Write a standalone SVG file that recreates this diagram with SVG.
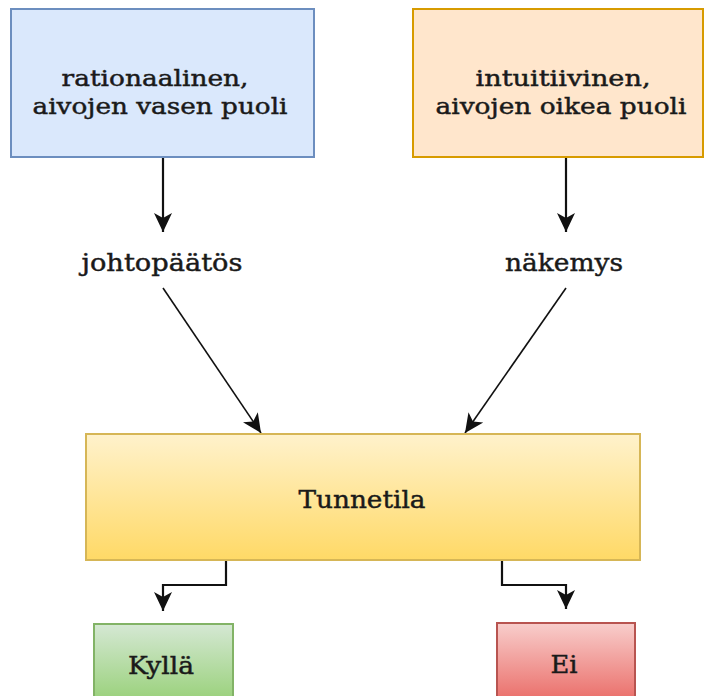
<svg xmlns="http://www.w3.org/2000/svg" width="704" height="696" viewBox="0 0 704 696">
  <defs>
    <linearGradient id="gYellow" x1="0" y1="0" x2="0" y2="1">
      <stop offset="0" stop-color="#fff2cc"/>
      <stop offset="1" stop-color="#ffd966"/>
    </linearGradient>
    <linearGradient id="gGreen" x1="0" y1="0" x2="0" y2="1">
      <stop offset="0" stop-color="#d5e8d4"/>
      <stop offset="1" stop-color="#97d077"/>
    </linearGradient>
    <linearGradient id="gRed" x1="0" y1="0" x2="0" y2="1">
      <stop offset="0" stop-color="#f8cecc"/>
      <stop offset="1" stop-color="#ea6b66"/>
    </linearGradient>
    <marker id="arrow" viewBox="0 0 20 20" refX="19" refY="10" markerWidth="20" markerHeight="20" markerUnits="userSpaceOnUse" orient="auto">
      <path d="M0,1 L19,10 L0,19 L5,10 Z" fill="#111"/>
    </marker>
  </defs>
  <style>
    .t { font-family: "DejaVu Serif", "Liberation Serif", serif; font-size: 25px; fill: #1a1a1a; stroke: #1a1a1a; stroke-width: 0.45; text-anchor: middle; }
    .s { font-size: 23px; }
    .c { fill: none; stroke: #111; stroke-width: 2.2; marker-end: url(#arrow); }
    .d { fill: none; stroke: #111; stroke-width: 1.6; marker-end: url(#arrow); }
  </style>
  <rect width="704" height="696" fill="#ffffff"/>

  <g id="connectors">
    <path class="c" d="M163,158 L163,232"/>
    <path class="c" d="M566,158 L566,232"/>
    <path class="d" d="M163,288 L261,433"/>
    <path class="d" d="M566,288 L465,433"/>
    <path class="c" d="M226,561 L226,585 L163,585 L163,611"/>
    <path class="c" d="M502,561 L502,585 L566,585 L566,609"/>
  </g>

  <g id="rational">
    <rect x="11" y="9" width="303" height="148" fill="#dae8fc" stroke="#6c8ebf" stroke-width="2"/>
    <text class="t s" x="155" y="86" textLength="187" lengthAdjust="spacingAndGlyphs">rationaalinen,</text>
    <text class="t s" x="160" y="114" textLength="255" lengthAdjust="spacingAndGlyphs">aivojen vasen puoli</text>
  </g>

  <g id="intuitive">
    <rect x="413" y="9" width="290" height="148" fill="#ffe6cc" stroke="#d79b00" stroke-width="2"/>
    <text class="t s" x="563" y="86" textLength="175" lengthAdjust="spacingAndGlyphs">intuitiivinen,</text>
    <text class="t s" x="561" y="114" textLength="251" lengthAdjust="spacingAndGlyphs">aivojen oikea puoli</text>
  </g>

  <g id="johtopaatos">
    <text class="t" x="162" y="271" textLength="161" lengthAdjust="spacingAndGlyphs">johtopäätös</text>
  </g>

  <g id="nakemys">
    <text class="t" x="564" y="271" textLength="118" lengthAdjust="spacingAndGlyphs">näkemys</text>
  </g>

  <g id="tunnetila">
    <rect x="86" y="434" width="554" height="126" fill="url(#gYellow)" stroke="#d6b656" stroke-width="2"/>
    <text class="t" x="362" y="508" textLength="127" lengthAdjust="spacingAndGlyphs">Tunnetila</text>
  </g>

  <g id="kylla">
    <rect x="94" y="624" width="139" height="80" fill="url(#gGreen)" stroke="#82b366" stroke-width="2"/>
    <text class="t" x="161" y="674" textLength="66" lengthAdjust="spacingAndGlyphs">Kyllä</text>
  </g>

  <g id="ei">
    <rect x="497" y="623" width="138" height="80" fill="url(#gRed)" stroke="#b85450" stroke-width="2"/>
    <text class="t" x="564" y="673" textLength="27" lengthAdjust="spacingAndGlyphs">Ei</text>
  </g>
</svg>
